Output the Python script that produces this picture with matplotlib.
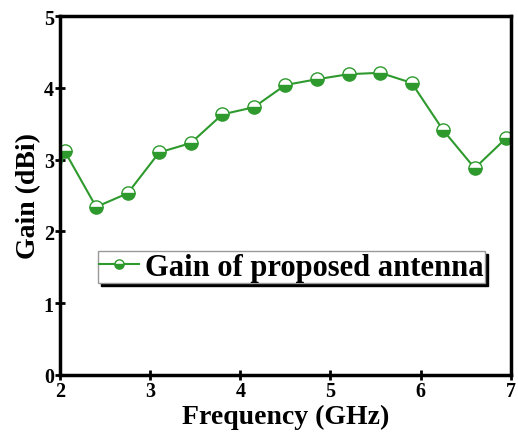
import matplotlib.pyplot as plt

freq = [2.0, 2.05, 2.40, 2.75, 3.10, 3.45, 3.80, 4.15, 4.50, 4.85, 5.20, 5.55, 5.90, 6.25, 6.60, 6.95]
gain = [2.88, 3.12, 2.34, 2.53, 3.10, 3.23, 3.63, 3.73, 4.04, 4.12, 4.19, 4.21, 4.07, 3.41, 2.88, 3.30]
markers_at = list(range(1, len(freq)))

plt.rcParams['font.family'] = ['Liberation Serif', 'DejaVu Serif']
plt.rcParams['font.weight'] = 'bold'

fig = plt.figure(figsize=(5.18, 4.39), dpi=100)
ax = fig.add_axes([0.116, 0.144, 0.870, 0.817])

green = '#2e9a2e'
ax.plot(freq, gain, color=green, lw=1.5, marker='o', markersize=9.5,
        markevery=markers_at, fillstyle='bottom', markerfacecolor=green,
        markerfacecoloralt='white', markeredgecolor=green, markeredgewidth=1.0,
        label='Gain of proposed antenna')

ax.set_xlim(2, 7)
ax.set_ylim(0, 5)
ax.set_xticks([2, 3, 4, 5, 6, 7])
ax.set_yticks([0, 1, 2, 3, 4, 5])
for s in ax.spines.values():
    s.set_linewidth(2.5)
ax.tick_params(direction='inout', length=7, width=2, labelsize=14.5, pad=1)
for lab in ax.get_xticklabels() + ax.get_yticklabels():
    lab.set_fontweight('bold')

ax.set_xlabel('Frequency (GHz)', fontsize=20, fontweight='bold', labelpad=2)
ax.set_ylabel('Gain (dBi)', fontsize=20, fontweight='bold', labelpad=2)

leg = ax.legend(loc='upper left', bbox_to_anchor=(0.084, 0.345),
                prop={'weight': 'bold', 'size': 22}, shadow={'color': 'black', 'alpha': 1},
                fancybox=False, handlelength=1.3, handletextpad=0.2, borderpad=0.05,
                borderaxespad=0, markerscale=0.7)
leg.get_frame().set_edgecolor('#999999')
leg.get_frame().set_linewidth(1.0)

fig.savefig('out.png', dpi=100)
